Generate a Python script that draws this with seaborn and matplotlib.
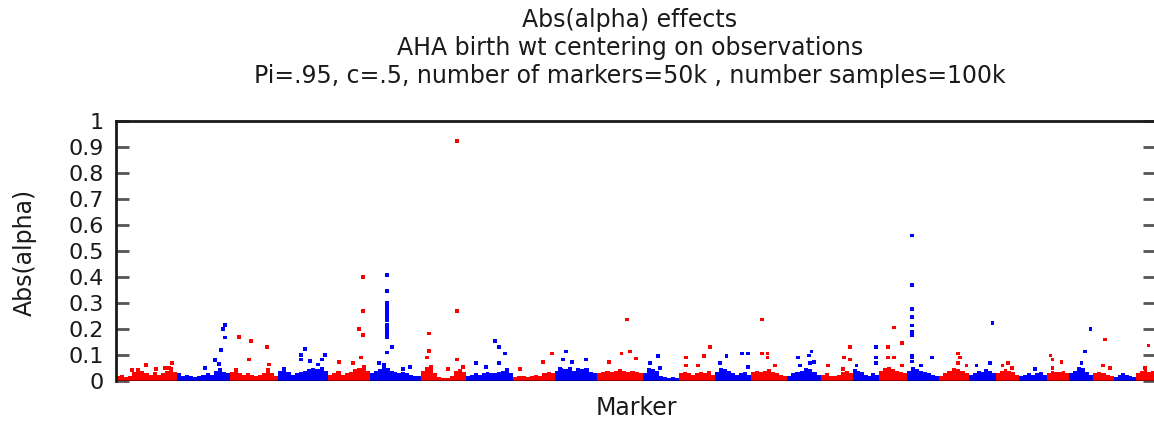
import numpy as np
import pandas as pd
import matplotlib
matplotlib.use("Agg")
import matplotlib.pyplot as plt
import seaborn as sns

# ---------------- data ----------------
# number of markers per chromosome (29 autosomes, ~50k markers)
chrom_sizes = [2935, 2550, 2310, 2406, 2021, 2454, 2165, 2262, 2021, 2021,
               2214, 1732, 1732, 1732, 1732, 1636, 1540, 1251, 1347, 1540,
               1444, 1299, 1107, 1347, 1059, 1155, 1011, 1059, 918]

# upper envelope of the dense cloud of small effects, per chromosome
band_tops = [
    [0.02, 0.025, 0.015, 0.02, 0.035, 0.05, 0.04, 0.03, 0.025, 0.035, 0.025, 0.03, 0.04, 0.055, 0.035],
    [0.03, 0.02, 0.025, 0.02, 0.015, 0.02, 0.025, 0.03, 0.025, 0.04, 0.05, 0.035, 0.03],
    [0.035, 0.05, 0.03, 0.025, 0.03, 0.025, 0.02, 0.025, 0.03, 0.05, 0.03, 0.02],
    [0.04, 0.055, 0.035, 0.025, 0.03, 0.035, 0.04, 0.045, 0.05, 0.045, 0.055, 0.04],
    [0.025, 0.03, 0.04, 0.025, 0.03, 0.035, 0.045, 0.05, 0.06, 0.04],
    [0.03, 0.04, 0.045, 0.07, 0.05, 0.04, 0.035, 0.03, 0.035, 0.03, 0.025, 0.02, 0.02],
    [0.04, 0.055, 0.06, 0.03, 0.015, 0.012, 0.012, 0.02, 0.04, 0.045, 0.035],
    [0.02, 0.025, 0.03, 0.025, 0.03, 0.035, 0.03, 0.03, 0.035, 0.04, 0.05, 0.03],
    [0.015, 0.02, 0.02, 0.015, 0.02, 0.025, 0.02, 0.03, 0.035, 0.03],
    [0.04, 0.05, 0.045, 0.055, 0.04, 0.05, 0.045, 0.05, 0.035, 0.03],
    [0.03, 0.035, 0.04, 0.035, 0.04, 0.045, 0.04, 0.035, 0.04, 0.035, 0.03],
    [0.03, 0.05, 0.045, 0.04, 0.02, 0.015, 0.012, 0.015, 0.012],
    [0.03, 0.035, 0.03, 0.025, 0.03, 0.035, 0.03, 0.04, 0.025],
    [0.035, 0.05, 0.045, 0.04, 0.03, 0.025, 0.03, 0.035, 0.025],
    [0.035, 0.04, 0.035, 0.04, 0.045, 0.035, 0.03, 0.025, 0.02],
    [0.02, 0.03, 0.035, 0.04, 0.05, 0.045, 0.035, 0.025],
    [0.025, 0.03, 0.02, 0.02, 0.025, 0.035, 0.04, 0.03],
    [0.045, 0.04, 0.035, 0.025, 0.02, 0.03, 0.025],
    [0.04, 0.05, 0.055, 0.045, 0.04, 0.035, 0.03],
    [0.04, 0.055, 0.045, 0.04, 0.035, 0.03, 0.025, 0.02],
    [0.02, 0.03, 0.04, 0.05, 0.045, 0.04, 0.03],
    [0.025, 0.03, 0.04, 0.035, 0.045, 0.04, 0.03],
    [0.03, 0.04, 0.045, 0.04, 0.035, 0.025],
    [0.02, 0.025, 0.03, 0.025, 0.03, 0.035, 0.025],
    [0.03, 0.04, 0.035, 0.035, 0.04, 0.03],
    [0.03, 0.04, 0.055, 0.05, 0.035, 0.025],
    [0.03, 0.035, 0.03, 0.025, 0.02],
    [0.015, 0.025, 0.03, 0.025, 0.02, 0.015],
    [0.03, 0.04, 0.045, 0.035, 0.04],
]

# markers standing out above the cloud
out_chr = ([1] * 6 + [2] * 7 + [3] * 5 + [4] * 7 + [5] * 7 + [6] * 17 + [7] * 8 + [8] * 6 +
           [9] * 3 + [10] * 5 + [11] * 5 + [12] * 3 + [13] * 5 + [14] * 5 + [15] * 5 +
           [16] * 6 + [17] * 5 + [18] * 4 + [19] * 6 + [20] * 13 + [21] * 4 + [22] * 3 +
           [23] * 3 + [24] * 1 + [25] * 4 + [26] * 3 + [27] * 3 + [29] * 2)
out_pos = [784, 1429, 1910, 2550, 2709, 2358,
           4283, 4764, 4971, 5053, 5260, 5134, 5245,
           5919, 6496, 7252, 6386, 7348,
           9095, 8902, 8902, 10057, 9913, 9335, 9735,
           11900, 11900, 11708, 11900, 11804, 10745, 11419,
           13055, 13055, 13055, 13055, 13055, 13055, 13055, 13055, 13055, 13055, 13055, 13055,
           13267, 13026, 12670, 13825, 14147,
           15076, 15076, 14951, 16423, 16423, 16423, 15990, 16712,
           17309, 18252, 18444, 18733, 18444, 17804,
           20562, 20966, 19440,
           21640, 21524, 21928, 22616, 21365,
           24604, 24734, 24334, 25022, 23738,
           26067, 25696, 26177,
           27428, 28583, 28295, 28020, 27428,
           29387, 30138, 30426, 29064, 30426,
           31100, 31100, 31360, 31360, 31711,
           32832, 33477, 33362, 33602, 32914, 33395,
           35320, 35046, 35320, 34276, 34998,
           36571, 36571, 36571, 35643,
           37452, 37837, 37163, 37163, 37452, 37837,
           38318, 38318, 38318, 38318, 38318, 38318, 38318, 38318, 38318, 38318, 38318,
           39280, 38737,
           40531, 40613, 40936, 40531,
           42187, 41417, 42057,
           42937, 42668, 43116,
           44222,
           44978, 45074, 45507, 45074,
           46903, 46628, 46470,
           47591, 47509, 47831,
           49694, 49515]
out_val = [0.042, 0.062, 0.045, 0.05, 0.068, 0.05,
           0.05, 0.08, 0.065, 0.12, 0.167, 0.2, 0.215,
           0.168, 0.153, 0.13, 0.083, 0.064,
           0.122, 0.1, 0.083, 0.1, 0.083, 0.077, 0.064,
           0.399, 0.268, 0.199, 0.176, 0.09, 0.074, 0.068,
           0.408, 0.345, 0.30, 0.285, 0.272, 0.26, 0.25, 0.235, 0.215, 0.2, 0.185, 0.17,
           0.13, 0.11, 0.068, 0.045, 0.055,
           0.183, 0.115, 0.09, 0.922, 0.268, 0.083, 0.045, 0.055,
           0.068, 0.153, 0.13, 0.106, 0.068, 0.055,
           0.074, 0.106, 0.045,
           0.114, 0.083, 0.074, 0.083, 0.045,
           0.237, 0.114, 0.106, 0.087, 0.074,
           0.097, 0.068, 0.051,
           0.09, 0.13, 0.097, 0.059, 0.059,
           0.097, 0.106, 0.106, 0.068, 0.055,
           0.237, 0.106, 0.106, 0.09, 0.059,
           0.09, 0.114, 0.098, 0.074, 0.059, 0.068,
           0.13, 0.09, 0.083, 0.059, 0.045,
           0.13, 0.09, 0.068, 0.059,
           0.206, 0.145, 0.13, 0.09, 0.09, 0.059,
           0.56, 0.368, 0.276, 0.245, 0.214, 0.19, 0.183, 0.176, 0.098, 0.09, 0.075,
           0.09, 0.059,
           0.106, 0.09, 0.059, 0.068,
           0.222, 0.059, 0.068,
           0.068, 0.059, 0.051,
           0.045,
           0.098, 0.083, 0.074, 0.051,
           0.199, 0.114, 0.068,
           0.16, 0.059, 0.051,
           0.137, 0.051]

ytick_vals = [0, 0.1, 0.2, 0.3, 0.4, 0.5, 0.6, 0.7, 0.8, 0.9, 1.0]
ytick_labels = ["0", "0.1", "0.2", "0.3", "0.4", "0.5", "0.6", "0.7", "0.8", "0.9", "1"]
title_lines = ["Abs(alpha) effects",
               "AHA birth wt centering on observations",
               "Pi=.95, c=.5, number of markers=50k , number samples=100k"]
x_label = "Marker"
y_label = "Abs(alpha)"

# ---------------- plot ----------------
sns.set_theme(style="white")
plt.rcParams['font.family'] = ['DejaVu Sans']

W, H = 1154, 421
fig = plt.figure(figsize=(W / 100, H / 100), dpi=100)
ax = fig.add_axes([116 / W, 40 / H, 1039 / W, 260 / H])

palette = {"odd": "#ff0000", "even": "#0000ff"}
starts = np.concatenate([[0], np.cumsum(chrom_sizes)[:-1]])

rows = []
for i, (s, n, tops) in enumerate(zip(starts, chrom_sizes, band_tops)):
    k = len(tops)
    w = n / k
    grp = "odd" if (i + 1) % 2 == 1 else "even"
    for j, t in enumerate(tops):
        rows.append(dict(x=s + (j + 0.5) * w, w=w, h=t, grp=grp))
band = pd.DataFrame(rows)
ax.bar(band["x"], band["h"], width=band["w"] * 1.01,
       color=[palette[g] for g in band["grp"]], linewidth=0, zorder=2)

pts = pd.DataFrame(dict(pos=out_pos, val=out_val,
                        grp=["odd" if c % 2 == 1 else "even" for c in out_chr]))
sns.scatterplot(data=pts, x="pos", y="val", hue="grp", palette=palette,
                marker="s", s=7, linewidth=0, legend=False, ax=ax, zorder=3)

ax.axhline(0, color="black", alpha=0.45, lw=2, zorder=4)

ax.set_xlim(0, sum(chrom_sizes))
ax.set_ylim(0, 1)
ax.set_xticks([])
ax.set_yticks(ytick_vals)
ax.set_yticklabels(ytick_labels)
ax.set_xlabel("")
ax.set_ylabel("")
ax.tick_params(axis="y", direction="in", length=9, width=2, color="#555555",
               left=True, right=True, labelsize=16, pad=9, labelcolor="#1a1a1a")
for side in ["left", "top", "right"]:
    ax.spines[side].set_color("#1a1a1a")
    ax.spines[side].set_linewidth(2)
ax.spines["bottom"].set_visible(False)

for txt, yc in zip(title_lines, [20, 48, 76]):
    fig.text(630 / W, 1 - yc / H, txt, ha="center", va="center", fontsize=17, color="#1a1a1a")
fig.text(636 / W, 1 - 408 / H, x_label, ha="center", va="center", fontsize=17, color="#1a1a1a")
fig.text(25 / W, 1 - 252 / H, y_label, ha="center", va="center", rotation=90,
         fontsize=17, color="#1a1a1a")

fig.savefig("out.png", dpi=100)
